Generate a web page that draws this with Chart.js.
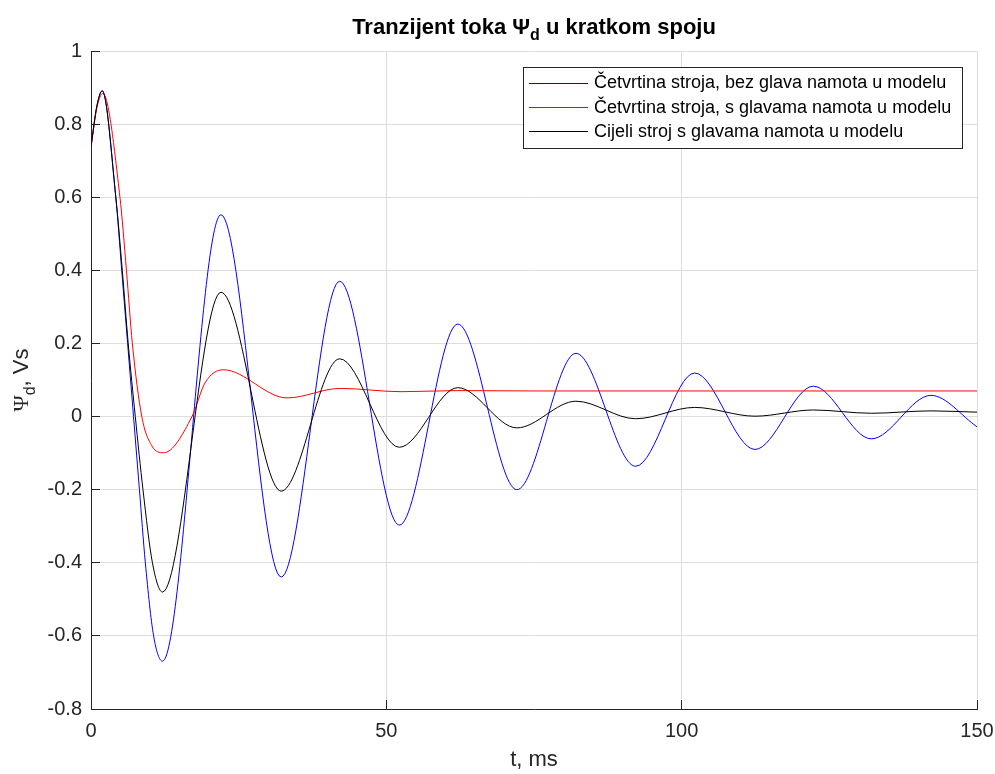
<!DOCTYPE html>
<html>
<head>
<meta charset="utf-8">
<title>Tranzijent toka u kratkom spoju</title>
<script src="https://cdn.jsdelivr.net/npm/chart.js@4.4.1/dist/chart.umd.min.js"></script>
<style>
    html, body { margin: 0; padding: 0; background: #fff; }
    #wrap { width: 995px; height: 774px; }
</style>
</head>
<body>
<div id="wrap"><canvas id="fluxCanvas" width="995" height="774"></canvas></div>
<script>

// axis ticks
var xTicks = [0, 50, 100, 150];
var yTicks = [-0.8, -0.6, -0.4, -0.2, 0, 0.2, 0.4, 0.6, 0.8, 1];

var seriesLabels = [
    'Četvrtina stroja, bez glava namota u modelu',
    'Četvrtina stroja, s glavama namota u modelu',
    'Cijeli stroj s glavama namota u modelu'
];

// time in ms, flux in Vs
var quarterNoEndT   = [0, 1.0, 1.9, 4.2, 5.2, 6.2, 7.2, 8.2, 9.2, 10.6, 12.1, 22.0, 32.2, 42.1, 52.2, 62.1, 72.1, 82.1, 92.2, 102.2, 112.4, 122.3, 132.1, 142.2, 150];
var quarterNoEndPsi = [0.738, 0.85, 0.891, 0.6, 0.4, 0.2, 0.0, -0.2, -0.4, -0.6, -0.669, 0.552, -0.439, 0.37, -0.297, 0.253, -0.2, 0.173, -0.136, 0.119, -0.09, 0.083, -0.061, 0.058, -0.028];

var quarterEndT   = [0, 1.0, 2.0, 4.9, 6.0, 7.0, 8.6, 10.3, 12.3, 17.1, 19.3, 22.4, 33.2, 42.2, 52.5, 62, 75, 150];
var quarterEndPsi = [0.738, 0.845, 0.884, 0.6, 0.4, 0.2, 0.0, -0.08, -0.099, 0.0, 0.092, 0.128, 0.051, 0.077, 0.068, 0.071, 0.07, 0.07];

var wholeEndT   = [0, 1.0, 1.9, 4.2, 5.3, 6.3, 7.5, 8.8, 10.4, 12.1, 22.0, 32.2, 42.1, 52.2, 62.1, 72.1, 82.1, 92.2, 102.2, 112.4, 122.3, 132.1, 142.2, 150];
var wholeEndPsi = [0.738, 0.85, 0.891, 0.6, 0.4, 0.2, 0.0, -0.2, -0.4, -0.48, 0.34, -0.204, 0.158, -0.084, 0.079, -0.031, 0.042, -0.006, 0.025, 0.001, 0.018, 0.009, 0.0155, 0.012];

var FONT = '"Liberation Sans", Arial, Helvetica, sans-serif';
var AXIS_COLOR = '#262626';

function toPoints(ts, ys) {
    return ts.map(function (t, i) { return { x: t, y: ys[i] }; });
}

function lineSet(label, ts, ys, color, order) {
    return {
        label: label,
        data: toPoints(ts, ys),
        borderColor: color,
        backgroundColor: color,
        borderWidth: 1,
        pointRadius: 0,
        fill: false,
        cubicInterpolationMode: 'monotone',
        order: order
    };
}

// draws a row of text pieces, some of them lowered as subscripts
function drawRuns(ctx, runs, cx, y) {
    var total = 0;
    runs.forEach(function (r) { ctx.font = r.font; r.w = ctx.measureText(r.text).width; total += r.w; });
    var x = cx - total / 2;
    runs.forEach(function (r) {
        ctx.font = r.font;
        ctx.fillText(r.text, x, y + (r.dy || 0));
        x += r.w;
    });
}

function crisp(p) { return Math.round(p - 0.5) + 0.5; }

var decor = {
    id: 'decor',
    afterDraw: function (chart) {
        var ctx = chart.ctx, area = chart.chartArea;
        var xs = chart.scales.x, ys = chart.scales.y;
        ctx.save();

        // tick marks pointing into the plot
        ctx.strokeStyle = AXIS_COLOR;
        ctx.lineWidth = 1;
        ctx.beginPath();
        xTicks.forEach(function (v) {
            var px = crisp(xs.getPixelForValue(v));
            ctx.moveTo(px, area.bottom);
            ctx.lineTo(px, area.bottom - 9);
        });
        yTicks.forEach(function (v) {
            var py = crisp(ys.getPixelForValue(v));
            ctx.moveTo(area.left, py);
            ctx.lineTo(area.left + 9, py);
        });
        ctx.stroke();

        // title
        ctx.fillStyle = '#000';
        ctx.textAlign = 'left';
        ctx.textBaseline = 'alphabetic';
        var tf = 'bold 22px ' + FONT;
        drawRuns(ctx, [
            { text: 'Tranzijent toka ', font: tf },
            { text: 'Ψ', font: tf },
            { text: 'd', font: 'bold 16px ' + FONT, dy: 6 },
            { text: ' u kratkom spoju', font: tf }
        ], (area.left + area.right) / 2, 34);

        // y axis label
        ctx.save();
        ctx.translate(28, (area.top + area.bottom) / 2);
        ctx.rotate(-Math.PI / 2);
        ctx.fillStyle = AXIS_COLOR;
        drawRuns(ctx, [
            { text: 'Ψ', font: '22px "Liberation Serif", "DejaVu Serif", serif' },
            { text: 'd', font: '16px ' + FONT, dy: 7 },
            { text: ', Vs', font: '22px ' + FONT }
        ], 0, 0);
        ctx.restore();

        // legend box
        ctx.font = '18px ' + FONT;
        var sets = chart.data.datasets;
        var tw = 0;
        sets.forEach(function (d) { tw = Math.max(tw, ctx.measureText(d.label).width); });
        var w = Math.round(6 + 59 + 6 + tw + 11), h = 81;
        var bx = Math.round(area.right - 15 - w), by = Math.round(area.top + 16);
        ctx.fillStyle = '#fff';
        ctx.fillRect(bx, by, w, h);
        ctx.strokeStyle = AXIS_COLOR;
        ctx.strokeRect(bx + 0.5, by + 0.5, w, h);
        ctx.textBaseline = 'middle';
        sets.forEach(function (d, i) {
            var cy = by + 16.5 + i * 24.2;
            ctx.strokeStyle = d.borderColor;
            ctx.beginPath();
            ctx.moveTo(bx + 6, crisp(cy));
            ctx.lineTo(bx + 65, crisp(cy));
            ctx.stroke();
            ctx.fillStyle = '#000';
            ctx.fillText(d.label, bx + 71, cy);
        });

        ctx.restore();
    }
};

var ctx = document.getElementById('fluxCanvas');

var fluxChart = new Chart(ctx, {
    type: 'line',
    data: {
        datasets: [
            lineSet(seriesLabels[0], quarterNoEndT, quarterNoEndPsi, '#0000ff', 3),
            lineSet(seriesLabels[1], quarterEndT, quarterEndPsi, '#ff0000', 2),
            lineSet(seriesLabels[2], wholeEndT, wholeEndPsi, '#000000', 1)
        ]
    },
    options: {
        responsive: false,
        animation: false,
        devicePixelRatio: 1,
        layout: { padding: { top: 51, right: 18, bottom: 0, left: 0 } },
        plugins: {
            legend: { display: false },
            title: { display: false },
            tooltip: { enabled: false }
        },
        scales: {
            x: {
                type: 'linear',
                min: 0,
                max: 150,
                afterBuildTicks: function (s) { s.ticks = xTicks.map(function (v) { return { value: v }; }); },
                afterFit: function (s) {
                    s.height = 65;
                    s.paddingLeft = 0;
                    s.paddingRight = 0;
                },
                grid: { color: '#dedede', drawTicks: false },
                border: { color: AXIS_COLOR, width: 1 },
                ticks: {
                    color: AXIS_COLOR,
                    padding: 10,
                    maxRotation: 0,
                    font: { family: FONT, size: 20 }
                },
                title: {
                    display: true,
                    text: 't, ms',
                    color: AXIS_COLOR,
                    font: { family: FONT, size: 22 },
                    padding: { top: 0, bottom: 1 }
                }
            },
            y: {
                type: 'linear',
                min: -0.8,
                max: 1,
                afterBuildTicks: function (s) { s.ticks = yTicks.map(function (v) { return { value: v }; }); },
                afterFit: function (s) { s.width = 91; },
                grid: { color: '#dedede', drawTicks: false },
                border: { color: AXIS_COLOR, width: 1 },
                ticks: {
                    color: AXIS_COLOR,
                    padding: 9,
                    font: { family: FONT, size: 20 },
                    callback: function (v) { return String(+v.toFixed(1)); }
                }
            }
        }
    },
    plugins: [decor]
});
</script>
</body>
</html>
